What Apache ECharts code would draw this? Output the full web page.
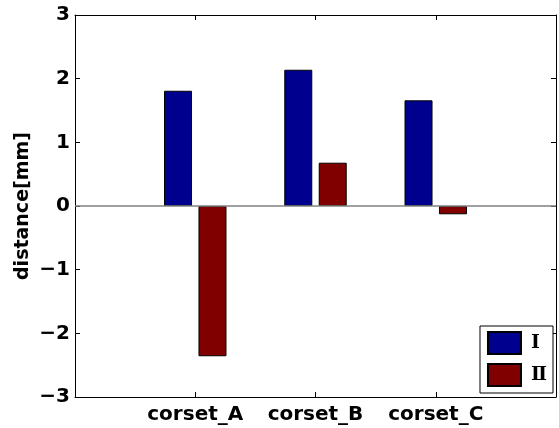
<!DOCTYPE html>
<html>
<head>
<meta charset="utf-8">
<script src="https://cdn.jsdelivr.net/npm/echarts@6/dist/echarts.min.js"></script>
<style>
  html, body { margin: 0; padding: 0; background: #fff; }
  #chart { width: 559px; height: 428px; }
</style>
</head>
<body>
<div id="chart"></div>
<script>
// categories sit at x = 1, 2, 3 on a 0..4 axis
const categories = ["corset_A", "corset_B", "corset_C"];
const categoryPos = [1, 2, 3];
const seriesNames = ["Ⅰ", "Ⅱ"];
const valuesI = [1.81, 2.14, 1.66];
const valuesII = [-2.36, 0.68, -0.13];

const labelFont = "'DejaVu Sans', sans-serif";

function pairs(values) {
  return values.map((v, i) => [categoryPos[i], v]);
}

const chart = echarts.init(document.getElementById("chart"));

const frameLine = { show: true, onZero: false, lineStyle: { color: "#000", width: 1 } };
const innerTick = { show: true, inside: true, length: 5, lineStyle: { color: "#000" } };

const option = {
  animation: false,
  backgroundColor: "#fff",
  grid: { left: 75, right: 2, top: 15, bottom: 31 },
  legend: {
    right: 6,
    bottom: 35,
    orient: "vertical",
    icon: "rect",
    itemWidth: 33,
    itemHeight: 22,
    itemGap: 8,
    padding: [5, 6, 6, 7],
    borderColor: "#000",
    borderWidth: 1,
    backgroundColor: "#fff",
    textStyle: {
      fontFamily: "'DejaVu Serif', 'Noto Sans CJK JP', serif",
      fontWeight: "bold",
      fontSize: 19,
      color: "#000",
      padding: [0, 0, 0, 5],
    },
    data: seriesNames,
  },
  xAxis: [
    {
      type: "value",
      min: 0,
      max: 4,
      interval: 1,
      axisLine: frameLine,
      axisTick: innerTick,
      splitLine: { show: false },
      axisLabel: {
        margin: 8,
        fontFamily: labelFont,
        fontWeight: "bold",
        fontSize: 20,
        color: "#000",
        formatter: (v) => {
          const i = categoryPos.indexOf(v);
          return i >= 0 ? categories[i] : "";
        },
      },
    },
    {
      type: "value",
      position: "top",
      min: 0,
      max: 4,
      interval: 1,
      axisLine: frameLine,
      axisTick: innerTick,
      axisLabel: { show: false },
      splitLine: { show: false },
    },
  ],
  yAxis: [
    {
      type: "value",
      min: -3,
      max: 3,
      interval: 1,
      name: "distance[mm]",
      nameLocation: "middle",
      nameGap: 42,
      nameMoveOverlap: false,
      nameTextStyle: {
        fontFamily: labelFont,
        fontWeight: "bold",
        fontSize: 19,
        color: "#000",
      },
      axisLine: frameLine,
      axisTick: innerTick,
      splitLine: { show: false },
      axisLabel: {
        margin: 5,
        fontFamily: labelFont,
        fontWeight: "bold",
        fontSize: 20,
        color: "#000",
        formatter: (v) => (v < 0 ? "\u2212" + Math.abs(v) : String(v)),
      },
    },
    {
      type: "value",
      position: "right",
      min: -3,
      max: 3,
      interval: 1,
      axisLine: frameLine,
      axisTick: innerTick,
      axisLabel: { show: false },
      splitLine: { show: false },
    },
  ],
  series: [
    {
      name: seriesNames[0],
      type: "bar",
      barWidth: 28,
      barGap: "23%",
      itemStyle: { color: "#00008f", borderColor: "#000", borderWidth: 1 },
      data: pairs(valuesI),
      markLine: {
        silent: true,
        symbol: "none",
        label: { show: false },
        lineStyle: { color: "#808080", width: 1.5, type: "solid" },
        data: [{ yAxis: 0 }],
      },
    },
    {
      name: seriesNames[1],
      type: "bar",
      barWidth: 28,
      barGap: "23%",
      itemStyle: { color: "#800000", borderColor: "#000", borderWidth: 1 },
      data: pairs(valuesII),
    },
  ],
};

chart.setOption(option);
</script>
</body>
</html>
